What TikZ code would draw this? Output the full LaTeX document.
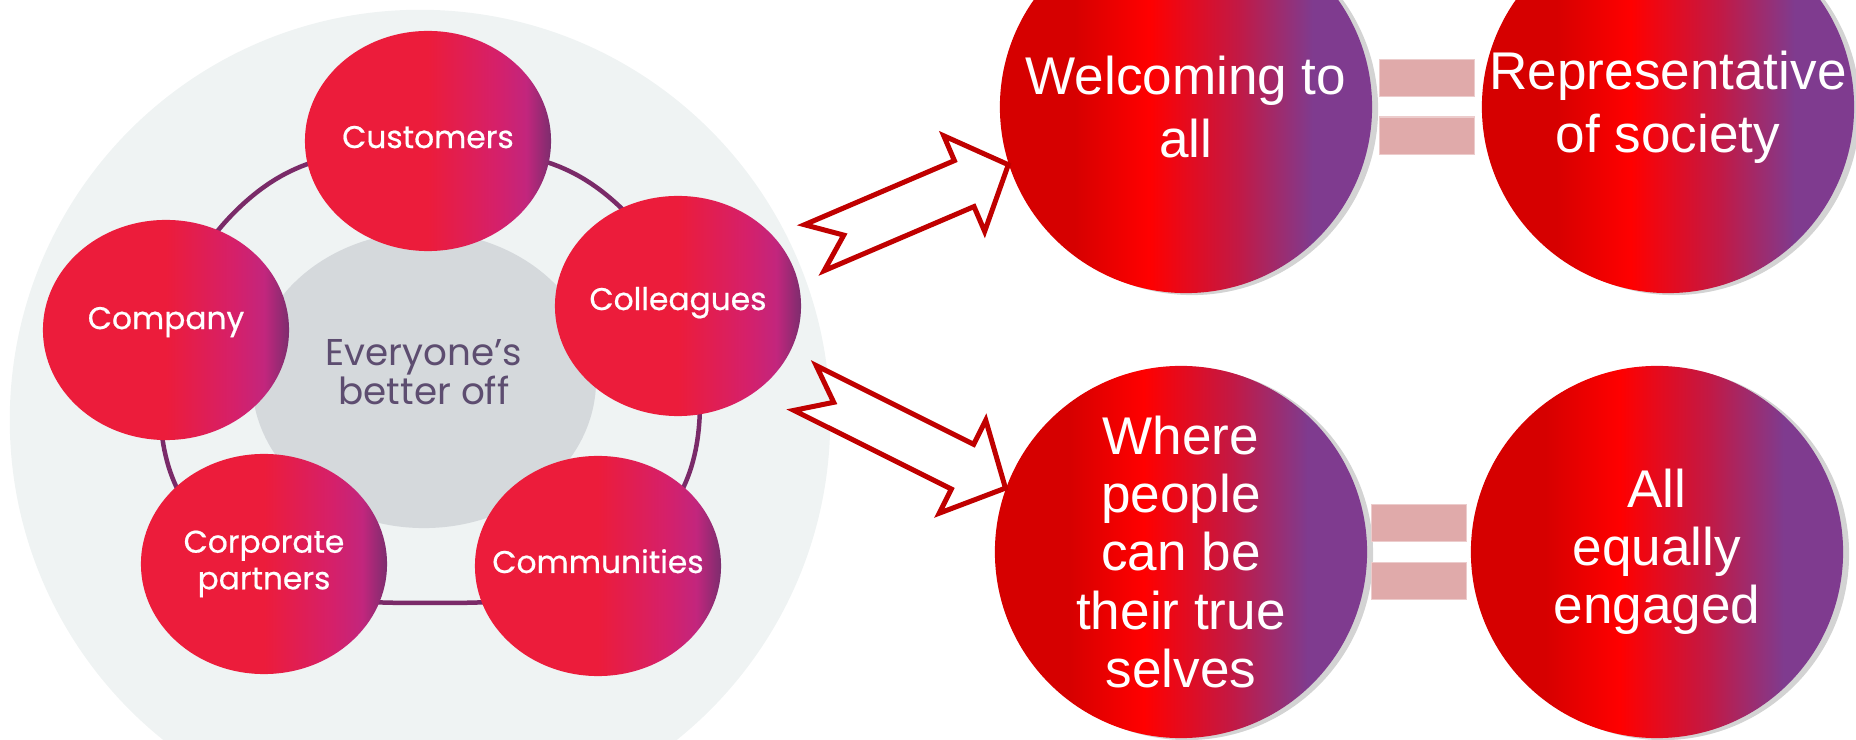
\documentclass[tikz,border=0pt]{standalone}
\usepackage{fontspec}
\setmainfont{Liberation Sans}
\newfontfamily\popfont{Poppins}
\newfontfamily\popmed[FakeBold=0.6]{Poppins}
\usepackage{tikz}
\usetikzlibrary{shapes,shadows,positioning,calc}
\definecolor{petred}{HTML}{EC1C3B}
\definecolor{petpink}{HTML}{D5206A}
\definecolor{petmag}{HTML}{C2267D}
\definecolor{petplum}{HTML}{7C2D6E}
\definecolor{balldark}{HTML}{D60000}
\definecolor{ballred}{HTML}{FF0000}
\definecolor{ballcrim}{HTML}{C21945}
\definecolor{ballplum}{HTML}{7F3B8F}
\definecolor{ringplum}{HTML}{7A2A68}
\definecolor{halo}{HTML}{EFF3F3}
\definecolor{hub}{HTML}{D5D9DC}
\definecolor{hubtext}{HTML}{5D4D70}
\definecolor{eqpink}{HTML}{E0AAAA}
\definecolor{arrowred}{HTML}{C00000}
\pgfdeclarehorizontalshading{petalshade}{100bp}{color(0bp)=(petred); color(50bp)=(petred); color(64bp)=(petpink); color(70bp)=(petmag); color(75bp)=(petplum); color(100bp)=(petplum)}
\pgfdeclarehorizontalshading{ballshade}{100bp}{color(0bp)=(balldark); color(35bp)=(balldark); color(45bp)=(ballred); color(57bp)=(ballcrim); color(67bp)=(ballplum); color(100bp)=(ballplum)}
\tikzset{
  pics/notcharrow/.style={code={
    \draw[arrowline] (0,0) -- (-48,-52) -- (-48,-25) -- (-#1,-25) -- (-#1+32,0) -- (-#1,25) -- (-48,25) -- (-48,52) -- cycle;
  }},
}

\begin{document}
\begin{tikzpicture}[x=0.01cm,y=-0.01cm,
  petal/.style={ellipse, minimum width=2.46cm, minimum height=2.20cm, inner sep=-2cm, shade, shading=petalshade, text=white, align=center, font=\popmed\fontsize{8.9pt}{10.4pt}\selectfont},
  bigball/.style={ellipse, minimum width=3.72cm, minimum height=3.72cm, inner sep=-3cm, shade, shading=ballshade, text=white, align=center, drop shadow={shadow xshift=0.06cm, shadow yshift=-0.02cm, opacity=0.35}},
  uptext/.style={font=\fontsize{15.1pt}{17.9pt}\selectfont},
  lowtext/.style={font=\fontsize{15.1pt}{16.5pt}\selectfont},
  eqbar/.style={rectangle, minimum width=0.95cm, minimum height=0.37cm, inner sep=0pt, fill=eqpink, draw=eqpink!60!white, line width=0.3pt},
  arrowline/.style={draw=arrowred, fill=white, line width=0.05cm, line join=miter},
  ringline/.style={draw=ringplum, line width=0.045cm},
  hubtext/.style={text=hubtext, align=center, font=\popfont\fontsize{10.6pt}{11.2pt}\selectfont},
]
\clip (0,0) rectangle (1856,740);

% left wheel
\fill[halo] (420,420) circle [radius=4.1cm];
\fill[hub] (424,380) ellipse [x radius=1.72cm, y radius=1.48cm];
\draw[ringline] plot[smooth cycle, tension=0.75] coordinates {(430,150) (618,205) (700,400) (620,560) (430,603) (240,560) (160,400) (242,205)};
\node[hubtext] (better) at (424,372) {Everyone’s\\better off};

\node[petal] (customers) at (428,141) {\raisebox{2.3pt}{Customers}};
\node[petal] (colleagues) at (678,306) {\raisebox{4.3pt}{Colleagues}};
\node[petal] (company) at (166,330) {\raisebox{6.8pt}{Company}};
\node[petal] (corporate) at (264,564) {Corporate\\partners};
\node[petal] (communities) at (598,566) {\raisebox{2.8pt}{Communities}};

% right side
\node[bigball, uptext] (welcome) at (1186,107) {Welcoming to\\all};
\node[bigball, uptext] (represent) at (1668,107) {Representative\\of society};
\node[bigball, lowtext] (where) at (1181,552) {Where\\people\\can be\\their true\\selves};
\node[bigball, lowtext] (engaged) at (1657,552) {All\\equally\\engaged};

\coordinate (eqtop) at ($(welcome.east)!.5!(represent.west)$);
\node[eqbar, above=0.095cm of eqtop] (eqtopa) {};
\node[eqbar, below=0.095cm of eqtop] (eqtopb) {};
\coordinate (eqlow) at ($(where.east)!.5!(engaged.west)$);
\node[eqbar, above=0.095cm of eqlow] (eqlowa) {};
\node[eqbar, below=0.095cm of eqlow] (eqlowb) {};

% arrows
\coordinate (uptail) at (809,250);
\coordinate (lowtail) at (801,386);
\path (uptail) -- (welcome.198) pic[pos=1, sloped]{notcharrow=211};
\path (lowtail) -- (where.160) pic[pos=1, sloped]{notcharrow=224};
\end{tikzpicture}
\end{document}
